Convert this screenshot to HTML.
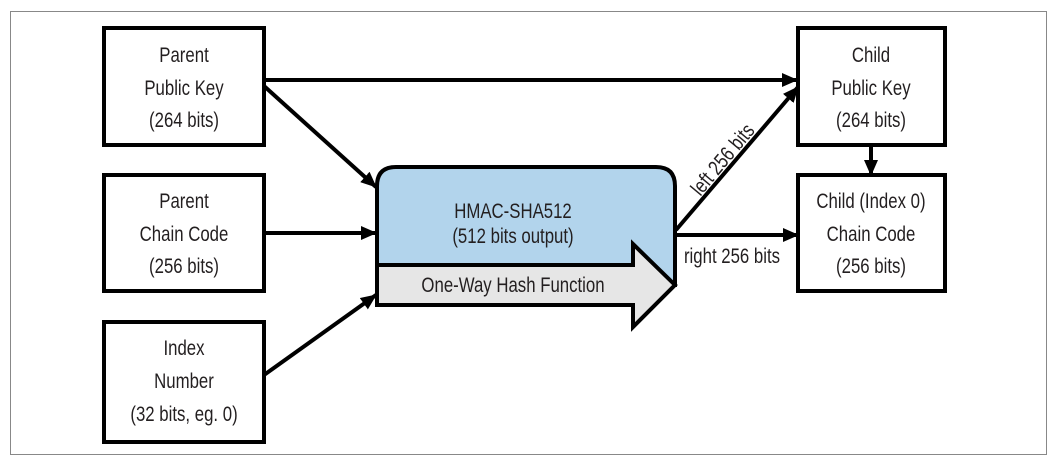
<!DOCTYPE html>
<html><head><meta charset="utf-8"><style>
html,body{margin:0;padding:0;background:#fff;}
svg text{font-family:"Liberation Sans",sans-serif;font-size:21px;fill:#231f20;}
</style></head><body>
<svg width="1057" height="464" xmlns="http://www.w3.org/2000/svg">
<defs>
<marker id="a" markerWidth="16" markerHeight="14" refX="15" refY="7" orient="auto" markerUnits="userSpaceOnUse" viewBox="0 0 16 14">
<path d="M0,0 L16,7 L0,14 z" fill="#000"/></marker>
</defs>
<rect x="10.5" y="11.5" width="1036" height="443" fill="none" stroke="#888" stroke-width="1"/>
<g fill="#fff" stroke="#000" stroke-width="4">
<rect x="104" y="28" width="160" height="117"/>
<rect x="104" y="175" width="160" height="116"/>
<rect x="104" y="322" width="160" height="120"/>
<rect x="798" y="28" width="147" height="117"/>
<rect x="798" y="175" width="147" height="116"/>
</g>
<path d="M377,285 V186 Q377,167 396,167 H656 Q675,167 675,186 V285 Z" fill="#b2d4ec" stroke="#000" stroke-width="4"/>
<path d="M377,265 H633 V244 L675,285 L633,327 V305 H377 Z" fill="#e6e6e6" stroke="#000" stroke-width="4" stroke-linejoin="miter"/>
<g stroke="#000" stroke-width="4" fill="none">
<line x1="264" y1="80" x2="797" y2="80" marker-end="url(#a)"/>
<line x1="264" y1="86" x2="376" y2="187" marker-end="url(#a)"/>
<line x1="264" y1="233" x2="376" y2="233" marker-end="url(#a)"/>
<line x1="264" y1="375" x2="376" y2="295" marker-end="url(#a)"/>
<line x1="676" y1="230" x2="798" y2="87" marker-end="url(#a)"/>
<line x1="676" y1="235" x2="798" y2="235" marker-end="url(#a)"/>
<line x1="871" y1="145" x2="871" y2="175" marker-end="url(#a)"/>
</g>
<g text-anchor="middle">
<g transform="translate(184,0) scale(0.8,1)">
<text x="0" y="62">Parent</text><text x="0" y="95">Public Key</text><text x="0" y="127">(264 bits)</text>
<text x="0" y="208">Parent</text><text x="0" y="241">Chain Code</text><text x="0" y="273">(256 bits)</text>
<text x="0" y="355">Index</text><text x="0" y="388">Number</text><text x="0" y="421">(32 bits, eg. 0)</text>
</g>
<g transform="translate(871,0) scale(0.8,1)">
<text x="0" y="62">Child</text><text x="0" y="95">Public Key</text><text x="0" y="127">(264 bits)</text>
<text x="0" y="208">Child (Index 0)</text><text x="0" y="241">Chain Code</text><text x="0" y="273">(256 bits)</text>
</g>
<g transform="translate(513,0) scale(0.8,1)">
<text x="0" y="218">HMAC-SHA512</text><text x="0" y="243">(512 bits output)</text>
<text x="0" y="292">One-Way Hash Function</text>
</g>
<g transform="translate(732,263) scale(0.8,1)"><text x="0" y="0">right 256 bits</text></g>
<g transform="translate(728,164) rotate(-50) scale(0.8,1)"><text x="0" y="0">left 256 bits</text></g>
</g>
</svg>
</body></html>
